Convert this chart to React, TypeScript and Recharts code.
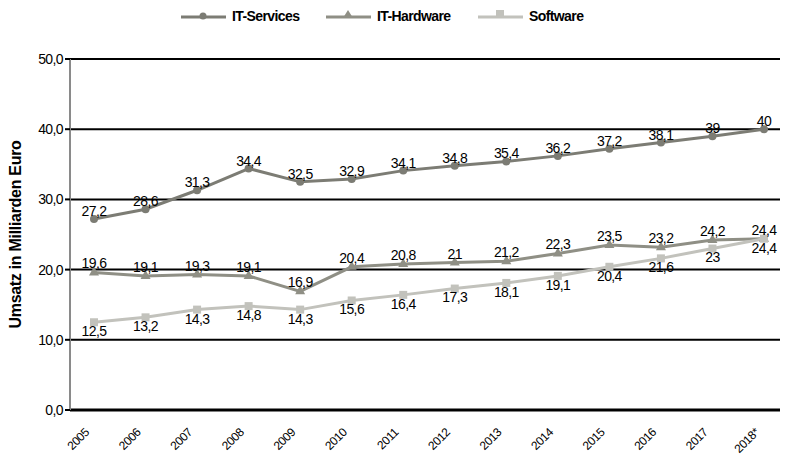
import React from 'react';
import { LineChart, Line, XAxis, YAxis, CartesianGrid, LabelList } from 'recharts';

const years = ['2005', '2006', '2007', '2008', '2009', '2010', '2011', '2012', '2013', '2014', '2015', '2016', '2017', '2018*'];
const itServices = [27.2, 28.6, 31.3, 34.4, 32.5, 32.9, 34.1, 34.8, 35.4, 36.2, 37.2, 38.1, 39, 40];
const itHardware = [19.6, 19.1, 19.3, 19.1, 16.9, 20.4, 20.8, 21, 21.2, 22.3, 23.5, 23.2, 24.2, 24.4];
const software = [12.5, 13.2, 14.3, 14.8, 14.3, 15.6, 16.4, 17.3, 18.1, 19.1, 20.4, 21.6, 23, 24.4];
const yTicks = [0, 10, 20, 30, 40, 50];

const data = years.map((year, i) => ({
  year,
  services: itServices[i],
  hardware: itHardware[i],
  software: software[i],
}));

const FONT = '"Liberation Sans Narrow", "Arial Narrow", "Liberation Sans", Arial, sans-serif';
const C_SERV = '#7c7c74';
const C_HARD = '#8f8f85';
const C_SOFT = '#c2c2bc';

const labelStyle = { fontSize: 14, fill: '#000', fontFamily: FONT, letterSpacing: -0.6 };

const fmt = (v: any) => String(v).replace('.', ',');

const CircleDot = (props: any) => {
  const { cx, cy } = props;
  if (cx == null || cy == null) return null;
  return <circle cx={cx} cy={cy} r={4} fill={C_SERV} />;
};

const TriDot = (props: any) => {
  const { cx, cy } = props;
  if (cx == null || cy == null) return null;
  return <path d={`M${cx},${cy - 6} L${cx + 5},${cy + 3} L${cx - 5},${cy + 3} Z`} fill={C_HARD} />;
};

const SquareDot = (props: any) => {
  const { cx, cy } = props;
  if (cx == null || cy == null) return null;
  return <rect x={cx - 4} y={cy - 4} width={8} height={8} fill={C_SOFT} />;
};

const XTick = (props: any) => {
  const { x, y, payload } = props;
  const ax = x - 4;
  const ay = y + 15;
  return (
    <text
      x={ax}
      y={ay}
      transform={`rotate(-45, ${ax}, ${ay})`}
      textAnchor="end"
      fontSize={12}
      letterSpacing={-0.4}
      fontFamily={FONT}
      fill="#000"
    >
      {payload.value}
    </text>
  );
};

const LegendItem = ({ color, label, marker, left }: { color: string; label: string; marker: string; left: number }) => (
  <div style={{ position: 'absolute', left, top: 8, display: 'flex', alignItems: 'center' }}>
    <svg width={45} height={14}>
      <line x1={0} y1={8} x2={45} y2={8} stroke={color} strokeWidth={3} />
      {marker === 'circle' && <circle cx={22} cy={7} r={3.5} fill={color} />}
      {marker === 'tri' && <path d="M22,1 L27,9 L17,9 Z" fill={color} />}
      {marker === 'square' && <rect x={18} y={1} width={8} height={8} fill={color} />}
    </svg>
    <span style={{ marginLeft: 6, fontWeight: 'bold', fontSize: 14, letterSpacing: -0.6 }}>{label}</span>
  </div>
);

export default function App() {
  return (
    <div style={{ position: 'absolute', left: 0, top: 0, width: 786, height: 456, background: '#fff', fontFamily: FONT }}>
      <LegendItem color={C_SERV} label="IT-Services" marker="circle" left={181} />
      <LegendItem color={C_HARD} label="IT-Hardware" marker="tri" left={326} />
      <LegendItem color={C_SOFT} label="Software" marker="square" left={478} />
      <LineChart width={786} height={456} data={data} margin={{ top: 59, right: 6, left: 0, bottom: 0 }}>
        <CartesianGrid vertical={false} stroke="#000" strokeWidth={2} />
        <XAxis
          dataKey="year"
          height={46}
          padding={{ left: 24, right: 16 }}
          axisLine={{ stroke: '#000', strokeWidth: 3 }}
          tickLine={false}
          tick={<XTick />}
          interval={0}
        />
        <YAxis
          width={70}
          domain={[0, 50]}
          ticks={yTicks}
          tickFormatter={(v: number) => v.toFixed(1).replace('.', ',')}
          axisLine={{ stroke: '#8a8a8a', strokeWidth: 2 }}
          tickLine={{ stroke: '#000', strokeWidth: 2 }}
          tickSize={5}
          tick={{ fontSize: 14, fill: '#000', fontFamily: FONT, letterSpacing: -0.6 }}
          label={{
            value: 'Umsatz in Milliarden Euro',
            angle: -90,
            position: 'center',
            dx: -20,
            style: { fontSize: 16, fontWeight: 'bold', fill: '#000', fontFamily: FONT, letterSpacing: -0.3 },
          }}
        />
        <Line type="linear" dataKey="services" stroke={C_SERV} strokeWidth={3} dot={<CircleDot />} isAnimationActive={false}>
          <LabelList dataKey="services" position="top" offset={3} formatter={fmt} style={labelStyle} />
        </Line>
        <Line type="linear" dataKey="hardware" stroke={C_HARD} strokeWidth={3} dot={<TriDot />} isAnimationActive={false}>
          <LabelList dataKey="hardware" position="top" offset={4} formatter={fmt} style={labelStyle} />
        </Line>
        <Line type="linear" dataKey="software" stroke={C_SOFT} strokeWidth={3} dot={<SquareDot />} isAnimationActive={false}>
          <LabelList dataKey="software" position="bottom" offset={4} formatter={fmt} style={labelStyle} />
        </Line>
      </LineChart>
    </div>
  );
}
